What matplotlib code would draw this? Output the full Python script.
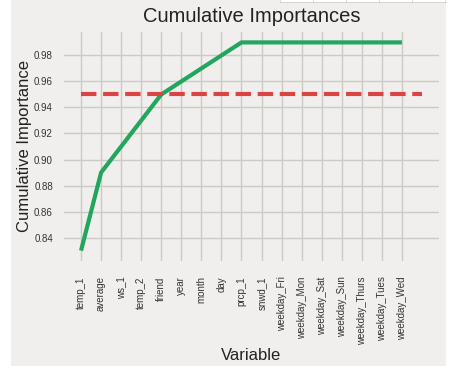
import matplotlib
matplotlib.use("Agg")
import matplotlib.pyplot as plt
from matplotlib.patches import Rectangle
from matplotlib.lines import Line2D

feature_list = ['temp_1', 'average', 'ws_1', 'temp_2', 'friend', 'year', 'month', 'day',
                'prcp_1', 'snwd_1', 'weekday_Fri', 'weekday_Mon', 'weekday_Sat', 'weekday_Sun',
                'weekday_Thurs', 'weekday_Tues', 'weekday_Wed']
cumulative_importances = [0.83, 0.89, 0.91, 0.93, 0.95, 0.96, 0.97, 0.98,
                          0.99, 0.99, 0.99, 0.99, 0.99, 0.99, 0.99, 0.99, 0.99]
threshold = 0.95
n_line = 18

plt.rcParams['font.family'] = ['Liberation Sans', 'DejaVu Sans']
bg = '#f0efed'
W, H = 454, 373

fig = plt.figure(figsize=(4.54, 3.73), dpi=100, facecolor='white')
fig.patches.append(Rectangle((11 / W, 1 - 366 / H), 435 / W, 366 / H,
                             transform=fig.transFigure, facecolor=bg, edgecolor='none', zorder=-1))
# bit of a table peeking in at the top right
fig.patches.append(Rectangle((280 / W, 1 - 2 / H), 166 / W, 2 / H,
                             transform=fig.transFigure, facecolor='white', edgecolor='none', zorder=0))
fig.lines.append(Line2D([280 / W, 446 / W], [1 - 1.5 / H, 1 - 1.5 / H], transform=fig.transFigure,
                        color='#c8c8c8', linewidth=0.5))
for xp in [280, 313, 346, 379, 412, 445]:
    fig.lines.append(Line2D([xp / W, xp / W], [1 - 1.5 / H, 1], transform=fig.transFigure,
                            color='#c8c8c8', linewidth=0.5))

ax = fig.add_axes([64 / W, 1 - 261 / H, 375 / W, 229 / H])
ax.set_facecolor(bg)

x_values = list(range(len(feature_list)))
ax.plot(x_values, cumulative_importances, color='#22a55c', linewidth=3.0, solid_capstyle='butt')
ax.hlines(y=threshold, xmin=0, xmax=n_line - 1, color='#dc4444', linestyles='dashed', linewidth=3.0)

ax.set_xticks(x_values)
ax.set_xticklabels(feature_list, rotation='vertical', fontsize=7)
ax.set_yticks([0.84, 0.86, 0.88, 0.90, 0.92, 0.94, 0.96, 0.98])
ax.set_yticklabels(['0.84', '0.86', '0.88', '0.90', '0.92', '0.94', '0.96', '0.98'], fontsize=7)
ax.tick_params(length=0, colors='#333333')
ax.tick_params(axis='x', pad=11)
ax.tick_params(axis='y', pad=8)
ax.grid(True, color='#cbcac4', linewidth=1)
ax.set_axisbelow(True)
for s in ax.spines.values():
    s.set_visible(False)

ax.set_xlabel('Variable', fontsize=12, color='#222222', labelpad=2)
ax.set_ylabel('Cumulative Importance', fontsize=12, color='#222222', labelpad=1.5)
ax.set_title('Cumulative Importances', fontsize=14.5, color='#222222', pad=7)

fig.savefig('out.png', dpi=100, facecolor=fig.get_facecolor())
